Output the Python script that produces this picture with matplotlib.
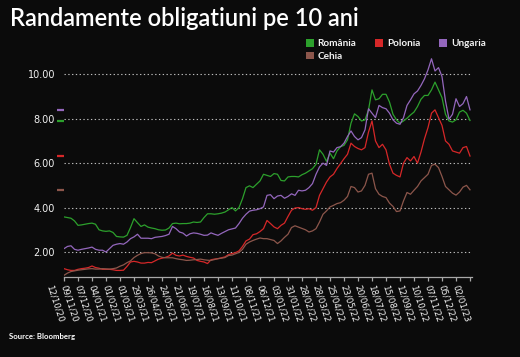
import matplotlib
matplotlib.use("Agg")
import matplotlib.pyplot as plt
from matplotlib.patches import Patch
from matplotlib.transforms import ScaledTranslation, blended_transform_factory
import pandas as pd

# ---------------- data (weekly readings, starting 12/10/2020) ----------------
start_date = "2020-10-12"
n_weeks = 117

romania = [3.58, 3.55, 3.52, 3.40, 3.20, 3.22, 3.25, 3.28, 3.30, 3.25,
           3.00, 2.95, 2.93, 2.95, 2.88, 2.70, 2.68, 2.67, 2.75, 3.10,
           3.50, 3.32, 3.15, 3.22, 3.12, 3.08, 3.05, 3.00, 2.98, 2.99,
           3.08, 3.28, 3.30, 3.27, 3.28, 3.28, 3.30, 3.35, 3.33, 3.35,
           3.55, 3.72, 3.72, 3.70, 3.72, 3.75, 3.80, 3.90, 4.00, 3.85,
           4.00, 4.40, 4.90, 4.98, 4.90, 5.05, 5.20, 5.50, 5.45, 5.40,
           5.53, 5.50, 5.22, 5.20, 5.38, 5.40, 5.40, 5.38, 5.48, 5.55,
           5.65, 5.75, 5.95, 6.60, 6.40, 6.08, 6.45, 6.20, 6.55, 6.74,
           6.80, 7.05, 7.80, 8.22, 8.10, 7.90, 7.95, 8.40, 9.30, 8.85,
           8.90, 9.10, 9.10, 8.75, 8.20, 7.95, 7.80, 7.90, 8.02, 8.17,
           8.30, 8.55, 8.88, 9.05, 9.05, 9.30, 9.65, 9.30, 8.95, 8.20,
           7.90, 7.85, 7.95, 8.30, 8.38, 8.25, 7.92]

polonia = [1.25, 1.20, 1.17, 1.17, 1.22, 1.25, 1.27, 1.30, 1.37, 1.30,
           1.27, 1.22, 1.22, 1.22, 1.20, 1.17, 1.17, 1.18, 1.35, 1.55,
           1.58, 1.55, 1.50, 1.50, 1.53, 1.52, 1.60, 1.68, 1.72, 1.76,
           1.82, 1.95, 1.85, 1.82, 1.86, 1.80, 1.76, 1.73, 1.62, 1.58,
           1.55, 1.48, 1.65, 1.68, 1.70, 1.74, 1.78, 1.88, 1.93, 1.97,
           2.05, 2.25, 2.50, 2.58, 2.78, 2.82, 2.92, 3.05, 3.42, 3.28,
           3.13, 3.05, 3.20, 3.30, 3.60, 3.88, 3.98, 4.00, 3.95, 3.92,
           3.95, 3.88, 4.00, 4.55, 4.85, 5.15, 5.38, 5.50, 5.76, 5.98,
           6.20, 6.40, 6.90, 6.75, 6.66, 6.60, 6.70, 7.40, 7.90, 7.00,
           6.70, 6.85, 6.60, 5.95, 5.55, 5.45, 5.38, 6.00, 6.25, 6.10,
           6.30, 6.00, 6.50, 7.10, 7.60, 8.25, 8.40, 8.05, 7.70, 7.00,
           6.85, 6.55, 6.50, 6.45, 6.70, 6.75, 6.32]

ungaria = [2.15, 2.25, 2.28, 2.12, 2.08, 2.12, 2.15, 2.18, 2.22, 2.12,
           2.08, 2.08, 2.00, 2.15, 2.30, 2.35, 2.38, 2.35, 2.45, 2.60,
           2.68, 2.80, 2.62, 2.62, 2.62, 2.60, 2.66, 2.68, 2.70, 2.74,
           2.80, 3.15, 3.05, 2.90, 2.85, 2.72, 2.82, 2.86, 2.84, 2.80,
           2.75, 2.76, 2.86, 2.80, 2.75, 2.84, 2.92, 3.00, 3.04, 3.08,
           3.28, 3.52, 3.70, 3.84, 3.88, 3.90, 3.95, 4.03, 4.55, 4.58,
           4.40, 4.52, 4.55, 4.42, 4.50, 4.62, 4.55, 4.78, 4.75, 4.78,
           4.90, 5.08, 5.50, 5.83, 6.00, 5.90, 6.55, 6.50, 6.70, 6.74,
           6.90, 7.20, 7.45, 7.20, 7.05, 7.15, 7.50, 8.45, 8.25, 8.05,
           8.60, 8.50, 8.45, 8.25, 7.95, 7.80, 7.75, 8.05, 8.60, 8.85,
           9.12, 9.25, 9.50, 9.80, 10.20, 10.70, 10.15, 10.30, 9.90, 8.80,
           7.98, 8.20, 8.90, 8.55, 8.68, 9.00, 8.40]

cehia = [0.95, 1.05, 1.12, 1.15, 1.18, 1.20, 1.22, 1.24, 1.25, 1.23,
         1.23, 1.25, 1.24, 1.23, 1.25, 1.28, 1.36, 1.42, 1.52, 1.60,
         1.75, 1.85, 1.93, 1.97, 1.97, 1.96, 1.92, 1.82, 1.76, 1.74,
         1.74, 1.74, 1.70, 1.67, 1.65, 1.62, 1.63, 1.65, 1.66, 1.68,
         1.65, 1.63, 1.62, 1.66, 1.70, 1.72, 1.75, 1.84, 1.86, 1.92,
         1.98, 2.12, 2.35, 2.45, 2.52, 2.58, 2.63, 2.60, 2.60, 2.56,
         2.52, 2.38, 2.50, 2.66, 2.80, 3.10, 3.18, 3.12, 3.06, 3.00,
         2.90, 2.95, 3.05, 3.35, 3.70, 3.85, 4.03, 4.10, 4.18, 4.22,
         4.33, 4.50, 4.95, 4.90, 4.70, 4.75, 5.00, 5.50, 5.55, 4.85,
         4.60, 4.50, 4.45, 4.20, 4.05, 3.82, 3.85, 4.30, 4.68, 4.60,
         4.78, 4.95, 5.20, 5.35, 5.50, 5.90, 5.95, 5.80, 5.40, 4.95,
         4.80, 4.65, 4.56, 4.70, 4.92, 5.00, 4.80]

series_names = ["România", "Polonia", "Ungaria", "Cehia"]
series_colors = ["#2ca02c", "#d62728", "#9467bd", "#8c564b"]

tick_labels = ["12/10/20", "09/11/20", "07/12/20", "04/01/21", "01/02/21",
               "01/03/21", "29/03/21", "26/04/21", "24/05/21", "21/06/21",
               "19/07/21", "16/08/21", "13/09/21", "11/10/21", "08/11/21",
               "06/12/21", "03/01/22", "31/01/22", "28/02/22", "28/03/22",
               "25/04/22", "23/05/22", "20/06/22", "18/07/22", "15/08/22",
               "12/09/22", "10/10/22", "07/11/22", "05/12/22", "02/01/23"]
y_ticks = [2, 4, 6, 8, 10]

# ---------------- figure ----------------
BG = "#0b0b0b"
FG = "#f2f2f2"
AX = "#a8a8a8"
W, H, DPI = 520, 357, 100

fig = plt.figure(figsize=(W / DPI, H / DPI), dpi=DPI, facecolor=BG)
ax = fig.add_axes([64 / W, 1 - 277 / H, 408 / W, 222 / H], facecolor=BG)

dates = pd.date_range(start_date, periods=n_weeks, freq="7D")
values = [romania, polonia, ungaria, cehia]
for name, col, vals in zip(series_names, series_colors, values):
    ax.plot(dates, vals, color=col, lw=0.9, solid_joinstyle="round")

x0 = pd.Timestamp(start_date)
ax.set_xlim(x0, x0 + pd.Timedelta(days=816))
ax.set_ylim(0.874, 10.87)

# last-value markers left of the axis
trans = blended_transform_factory(ax.transAxes, ax.transData)
for col, vals in zip(series_colors, values):
    ax.plot([-0.016, -0.001], [vals[-1], vals[-1]], color=col, lw=1.6,
            transform=trans, clip_on=False, solid_capstyle="butt")

# y axis
ax.set_yticks(y_ticks)
ax.set_yticklabels([f"{v:.2f}" for v in y_ticks])
ax.tick_params(axis="y", length=0, pad=6.5, labelsize=7, labelcolor=FG)
ax.grid(axis="y", color="#bdbdbd", lw=0.8, linestyle=(0, (1.2, 2.2)))
ax.set_axisbelow(True)

# x axis
tick_dates = pd.to_datetime(tick_labels, format="%d/%m/%y")
ax.set_xticks(tick_dates)
ax.set_xticklabels(tick_labels, rotation=-72, rotation_mode="anchor",
                   ha="left", va="center")
ax.tick_params(axis="x", length=3, width=0.9, color=AX, pad=3.0,
               labelsize=6.2, labelcolor=FG)
off = ScaledTranslation(-15 / DPI, 0, fig.dpi_scale_trans)
for lbl in ax.get_xticklabels():
    lbl.set_transform(lbl.get_transform() + off)

for s in ["top", "right", "left"]:
    ax.spines[s].set_visible(False)
ax.spines["bottom"].set_color(AX)
ax.spines["bottom"].set_linewidth(0.9)

# title / source
fig.text(10 / W, 1 - 26 / H, "Randamente obligatiuni pe 10 ani",
         fontsize=17, color="white", family="Lato", weight="semibold",
         va="baseline")
fig.text(9 / W, 1 - 339 / H, "Source: Bloomberg", fontsize=5.6,
         color="white", family="Lato", weight="bold", va="baseline")

# legend
order = [0, 3, 1, 2]
handles = [Patch(facecolor=series_colors[i], edgecolor="none") for i in order]
labels = [series_names[i] for i in order]
fig.legend(handles, labels, ncol=3, loc="upper left",
           bbox_to_anchor=(306 / W, 1 - 39 / H), frameon=False,
           prop={"family": "Lato", "weight": "bold", "size": 7.2},
           labelcolor=FG, handlelength=0.8, handleheight=0.8,
           handletextpad=0.35, columnspacing=1.9, labelspacing=0.35,
           borderpad=0, borderaxespad=0)

fig.savefig("out.png", dpi=DPI, facecolor=BG)
